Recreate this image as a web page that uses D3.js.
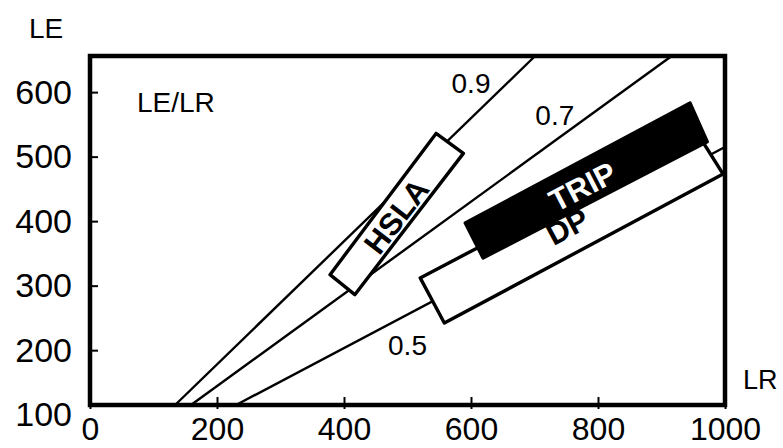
<!DOCTYPE html>
<html>
<head>
<meta charset="utf-8">
<script src="https://cdn.jsdelivr.net/npm/d3@7"></script>
<style>
  body { margin: 0; background: #fff; }
  svg { display: block; font-family: "Liberation Sans", Arial, sans-serif; }
</style>
</head>
<body>
<div id="graph"></div>
<script>
// axis ticks
const xTicks = [0, 200, 400, 600, 800, 1000];
const yTicks = [100, 200, 300, 400, 500, 600];

// LE/LR ratio lines (LR, LE end points)
const ratioNames = ["0.9", "0.7", "0.5"];
const ratioFrom = [[134, 115], [159, 115], [230, 115]];
const ratioTo = [[701, 656], [916, 656], [1000, 515]];
const ratioLabelAt = [[600, 614], [732, 563], [500, 208]];

// steel grade windows, corners as (LR, LE)
const boxNames = ["DP", "TRIP", "HSLA"];
const boxCorners = [
  [[520, 312], [956, 537], [997, 473], [558, 242]],
  [[591, 397], [945, 583], [972, 523], [619, 343]],
  [[378, 317], [545, 536], [588, 505], [417, 286]]
];
const boxFill = ["#fff", "#000", "#fff"];
const boxLabelAt = [[752, 391], [776, 453], [483, 407]];
const boxTextColor = ["#000", "#fff", "#000"];

const W = 783, H = 448;
const frame = {left: 90, right: 725, top: 56, bottom: 405};

const x = d3.scaleLinear().domain([0, 1000]).range([frame.left, frame.right]);
const y = d3.scaleLinear().domain([115, 656]).range([frame.bottom, frame.top]);

const svg = d3.select("#graph").append("svg")
  .attr("width", W)
  .attr("height", H);

// ratio lines
ratioNames.forEach((name, i) => {
  svg.append("line")
    .attr("x1", x(ratioFrom[i][0])).attr("y1", y(ratioFrom[i][1]))
    .attr("x2", x(ratioTo[i][0])).attr("y2", y(ratioTo[i][1]))
    .attr("stroke", "#000")
    .attr("stroke-width", 2.4);
  svg.append("text")
    .attr("x", x(ratioLabelAt[i][0]))
    .attr("y", y(ratioLabelAt[i][1]))
    .attr("text-anchor", "middle")
    .attr("dominant-baseline", "central")
    .style("font-size", "28px")
    .text(name);
});

// boxes
const poly = d3.line().x(d => x(d[0])).y(d => y(d[1]));
boxNames.forEach((name, i) => {
  svg.append("path")
    .attr("d", poly(boxCorners[i]) + "Z")
    .attr("fill", boxFill[i])
    .attr("stroke", "#000")
    .attr("stroke-width", 3.4)
    .attr("stroke-linejoin", "round");
});

boxNames.forEach((name, i) => {
  const c = boxCorners[i];
  // long side runs from last corner to third corner
  const a = Math.atan2(y(c[2][1]) - y(c[3][1]), x(c[2][0]) - x(c[3][0])) * 180 / Math.PI;
  const px = x(boxLabelAt[i][0]), py = y(boxLabelAt[i][1]);
  svg.append("text")
    .attr("transform", "translate(" + px + "," + py + ") rotate(" + a + ")")
    .attr("text-anchor", "middle")
    .attr("dominant-baseline", "central")
    .attr("fill", boxTextColor[i])
    .style("font-size", "31px")
    .style("font-weight", "bold")
    .text(name);
});

// frame
svg.append("rect")
  .attr("x", frame.left).attr("y", frame.top)
  .attr("width", frame.right - frame.left).attr("height", frame.bottom - frame.top)
  .attr("fill", "none")
  .attr("stroke", "#000")
  .attr("stroke-width", 4.5);

// axes
const xAxis = d3.axisBottom(x).tickValues(xTicks).tickFormat(d3.format("d"))
  .tickSizeInner(-8).tickSizeOuter(0).tickPadding(12);
const yAxis = d3.axisLeft(y).tickValues(yTicks).tickFormat(d3.format("d"))
  .tickSizeInner(-8).tickSizeOuter(0).tickPadding(18);

const gx = svg.append("g")
  .attr("transform", "translate(0," + frame.bottom + ")")
  .call(xAxis);
gx.select(".domain").remove();
gx.selectAll(".tick line").attr("y1", 4).attr("stroke-width", 2);
gx.selectAll(".tick text").style("font-size", "32px").attr("fill", "#000");

const gy = svg.append("g")
  .attr("transform", "translate(" + frame.left + ",0)")
  .call(yAxis);
gy.select(".domain").remove();
gy.selectAll(".tick line").attr("stroke-width", 2)
  .attr("display", d => y(d) > frame.bottom ? "none" : null);
gy.selectAll(".tick text").style("font-size", "34px").attr("fill", "#000");

// axis titles
svg.append("text")
  .attr("x", 46).attr("y", 38)
  .attr("text-anchor", "middle")
  .style("font-size", "28px")
  .text("LE");

svg.append("text")
  .attr("x", 743).attr("y", 389)
  .style("font-size", "27px")
  .text("LR");

svg.append("text")
  .attr("x", 137).attr("y", 112)
  .style("font-size", "28px")
  .text("LE/LR");
</script>
</body>
</html>
